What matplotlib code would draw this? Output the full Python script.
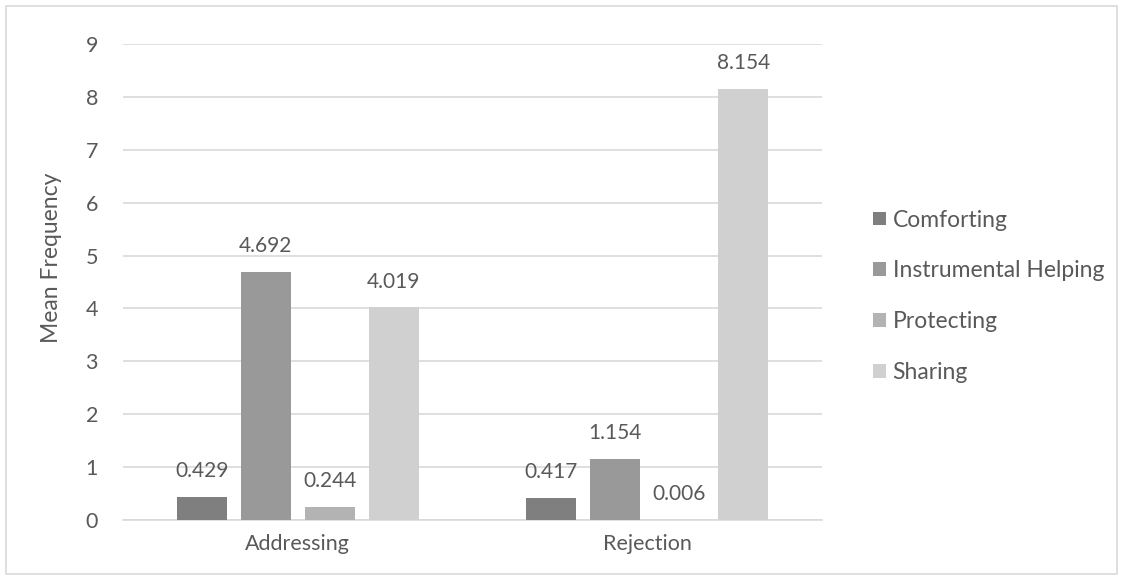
import numpy as np
import matplotlib.pyplot as plt
from matplotlib.patches import Rectangle

plt.switch_backend('Agg')

# Datos
categories = ['Addressing', 'Rejection']
behaviours = ['Comforting', 'Instrumental Helping', 'Protecting', 'Sharing']
comforting = [0.429, 0.417]
instrumental = [4.692, 1.154]
protecting = [0.244, 0.006]
sharing = [4.019, 8.154]
y_ticks = [0, 1, 2, 3, 4, 5, 6, 7, 8, 9]

series = [comforting, instrumental, protecting, sharing]
colors = ['#7f7f7f', '#999999', '#b3b3b3', '#d0d0d0']
text_color = '#595959'

plt.rcParams['font.family'] = ['Lato', 'DejaVu Sans']

fig = plt.figure(figsize=(11.23, 5.8), dpi=100)
ax = fig.add_axes([123 / 1123, 1 - 520 / 580, (822 - 123) / 1123, (520 - 44) / 580])

x = np.arange(len(categories))
width = 0.143
step = 0.183
offsets = (np.arange(len(series)) - 1.5) * step

for vals, off, col, name in zip(series, offsets, colors, behaviours):
    bars = ax.bar(x + off, vals, width, color=col, label=name, zorder=3)
    for b, v in zip(bars, vals):
        ax.text(b.get_x() + b.get_width() / 2, v + 0.3, f'{v:.3f}',
                ha='center', va='bottom', fontsize=15, color=text_color)

ax.set_xlim(-0.5, 1.5)
ax.set_ylim(0, 9)
ax.set_yticks(y_ticks)
ax.set_xticks(x)
ax.set_xticklabels(categories)
ax.grid(axis='y', color='#d9d9d9', linewidth=1.2, zorder=0)
for s in ['top', 'right', 'left']:
    ax.spines[s].set_visible(False)
ax.spines['bottom'].set_color('#d9d9d9')
ax.spines['bottom'].set_linewidth(1.2)
ax.tick_params(axis='both', length=0, labelsize=15.5, labelcolor=text_color)
ax.tick_params(axis='y', pad=18)
ax.tick_params(axis='x', pad=10)
ax.set_ylabel('Mean Frequency', fontsize=16.5, color=text_color)
ax.yaxis.set_label_coords(-0.087, 0.55)

ax.legend(loc='center left', bbox_to_anchor=(1.073, 0.47), frameon=False,
          fontsize=16.5, labelcolor=text_color, handlelength=0.55,
          handleheight=0.55, handletextpad=0.3, labelspacing=1.3,
          borderpad=0, borderaxespad=0)

# Borde del área del gráfico
fig.patches.append(Rectangle((6 / 1123, 6 / 580), 1 - 12 / 1123, 1 - 12 / 580,
                             transform=fig.transFigure, fill=False,
                             edgecolor='#d9d9d9', linewidth=1.2))

fig.savefig('out.png', dpi=100)
